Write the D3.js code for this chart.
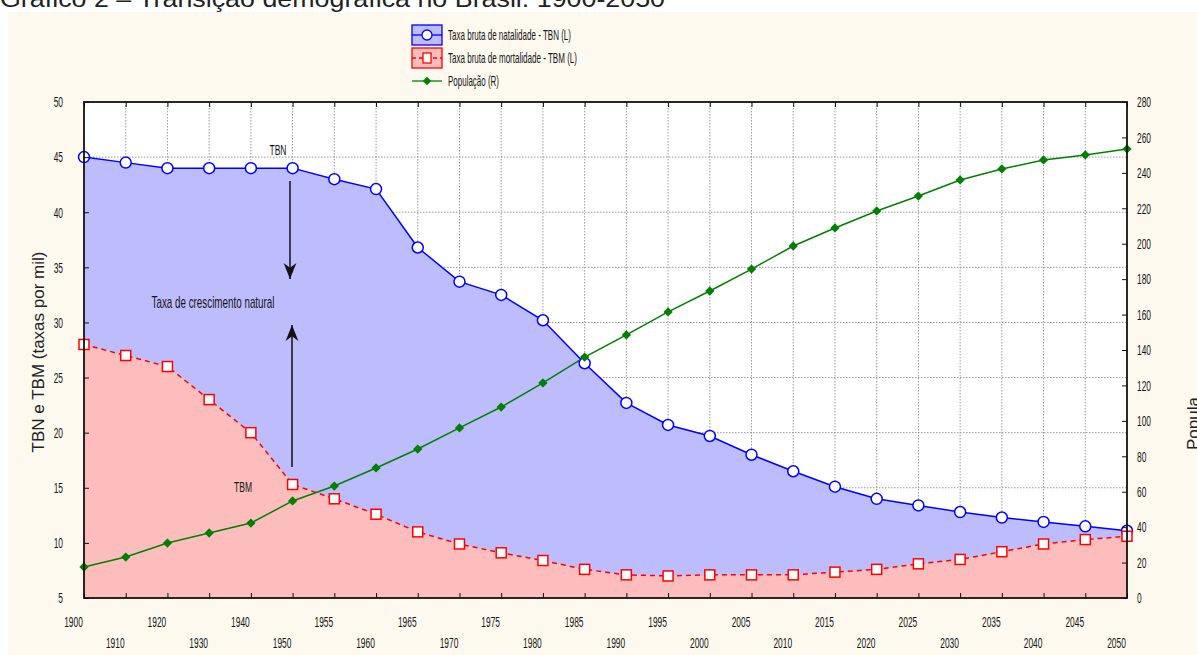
<!DOCTYPE html>
<html><head><meta charset="utf-8">
<script src="https://cdn.jsdelivr.net/npm/d3@7"></script>
<style>
body{margin:0;background:#fff;}
svg{display:block;}
</style></head>
<body>
<svg id="c" width="1197" height="655"></svg>
<script>
const years = ["1900","1910","1920","1930","1940","1950","1955","1960","1965","1970","1975","1980","1985","1990","1995","2000","2005","2010","2015","2020","2025","2030","2035","2040","2045","2050"];
const tbn = [45,44.5,44,44,44,44,43,42.1,36.8,33.7,32.5,30.2,26.3,22.7,20.7,19.7,18,16.5,15.1,14,13.4,12.8,12.3,11.9,11.5,11.1];
const tbm = [28,27,26,23,20,15.3,14,12.6,11,9.9,9.1,8.4,7.6,7.1,7,7.1,7.1,7.1,7.35,7.6,8.1,8.5,9.2,9.9,10.3,10.6];
const pop = [17.5,23.1,31,36.7,42.3,54.8,63.2,73.4,84.1,96,107.8,121.4,136,148.5,161.5,173.3,185.7,198.7,208.9,218.5,226.9,236,242.2,247.3,250.1,253.5];
const leftTicks = [5,10,15,20,25,30,35,40,45,50];
const rightTicks = [0,20,40,60,80,100,120,140,160,180,200,220,240,260,280];
const legendLabels = ["Taxa bruta de natalidade - TBN (L)","Taxa bruta de mortalidade - TBM (L)","População (R)"];
const title = "Gráfico 2 – Transição demográfica no Brasil: 1900-2050";

const FONT = '"Liberation Sans", Arial, sans-serif';
const INK = "#161616";
function squeeze(sel, factor){
  sel.each(function(){
    const w = this.getComputedTextLength();
    d3.select(this).attr("textLength", w*factor).attr("lengthAdjust","spacingAndGlyphs");
  });
}
function fitTo(sel, len){ sel.attr("textLength",len).attr("lengthAdjust","spacingAndGlyphs"); }

const svg = d3.select("#c");
const L=84,R=1127,T=102,B=598;
const x = d3.scalePoint().domain(years).range([L,R]);
const yL = d3.scaleLinear().domain([5,50]).range([B,T]);
const yR = d3.scaleLinear().domain([0,280]).range([B,T]);

// background
svg.append("rect").attr("x",8).attr("y",12).attr("width",1189).attr("height",643).attr("fill","#fdf9ee");
fitTo(svg.append("text").attr("x",0).attr("y",7).attr("font-family",FONT)
  .attr("font-size",24).attr("fill","#222").text(title), 665);

svg.append("rect").attr("x",L).attr("y",T).attr("width",R-L).attr("height",B-T).attr("fill","#fff");

// grid
const grid = svg.append("g").attr("stroke","#9a9a9a").attr("stroke-dasharray","1.5,1.5").attr("stroke-width",1);
years.slice(1,-1).forEach(d=>grid.append("line").attr("x1",x(d)).attr("x2",x(d)).attr("y1",T).attr("y2",B));
leftTicks.slice(1,-1).forEach(v=>grid.append("line").attr("x1",L).attr("x2",R).attr("y1",yL(v)).attr("y2",yL(v)));

// areas
const idx = d3.range(years.length);
svg.append("path").datum(idx).attr("fill","#bdbdfd")
  .attr("d",d3.area().x(i=>x(years[i])).y0(B).y1(i=>yL(tbn[i])));
svg.append("path").datum(idx).attr("fill","#fdbdbd")
  .attr("d",d3.area().x(i=>x(years[i])).y0(B).y1(i=>yL(tbm[i])));

// lines
svg.append("path").datum(idx).attr("fill","none").attr("stroke","#0000ff").attr("stroke-width",1.5)
  .attr("d",d3.line().x(i=>x(years[i])).y(i=>yL(tbn[i])));
svg.append("path").datum(idx).attr("fill","none").attr("stroke","#ff0000").attr("stroke-width",1.5).attr("stroke-dasharray","5,4")
  .attr("d",d3.line().x(i=>x(years[i])).y(i=>yL(tbm[i])));
svg.append("path").datum(idx).attr("fill","none").attr("stroke","#008000").attr("stroke-width",1.5)
  .attr("d",d3.line().x(i=>x(years[i])).y(i=>yR(pop[i])));

// markers
svg.append("g").selectAll("circle").data(idx).join("circle")
  .attr("cx",i=>x(years[i])).attr("cy",i=>yL(tbn[i])).attr("r",5.5)
  .attr("fill","#fff").attr("stroke","#0000ff").attr("stroke-width",1.5);
svg.append("g").selectAll("rect").data(idx).join("rect")
  .attr("x",i=>x(years[i])-5).attr("y",i=>yL(tbm[i])-5).attr("width",10).attr("height",10)
  .attr("fill","#fff").attr("stroke","#ff0000").attr("stroke-width",1.5);
const diamond = d3.symbol().type(d3.symbolDiamond2).size(55);
svg.append("g").selectAll("path").data(idx).join("path")
  .attr("transform",i=>`translate(${x(years[i])},${yR(pop[i])})`).attr("d",diamond).attr("fill","#008000");

// frame
svg.append("rect").attr("x",L).attr("y",T).attr("width",R-L).attr("height",B-T).attr("fill","none").attr("stroke","#111").attr("stroke-width",1.8);

// axes
const ax = svg.append("g").attr("transform",`translate(0,${B})`)
  .call(d3.axisBottom(x).tickSizeInner(-5).tickSizeOuter(0).tickPadding(0));
ax.select(".domain").remove();
ax.selectAll(".tick line").attr("stroke","#111");
ax.selectAll(".tick text").attr("font-family",FONT).attr("font-size",15).attr("fill",INK)
  .attr("x",-11).attr("y",(d,i)=> i%2===0 ? 29 : 50).attr("dy",0).call(squeeze,0.56);
const axT = svg.append("g").attr("transform",`translate(0,${T})`)
  .call(d3.axisTop(x).tickSizeInner(-5).tickSizeOuter(0).tickFormat(""));
axT.select(".domain").remove(); axT.selectAll(".tick line").attr("stroke","#111");

const ayL = svg.append("g").attr("transform",`translate(${L},0)`)
  .call(d3.axisLeft(yL).tickValues(leftTicks).tickSizeInner(-5).tickSizeOuter(0).tickPadding(21));
ayL.select(".domain").remove(); ayL.selectAll(".tick line").attr("stroke","#111");
ayL.selectAll(".tick text").attr("font-family",FONT).attr("font-size",15).attr("fill",INK).call(squeeze,0.56);

const ayR = svg.append("g").attr("transform",`translate(${R},0)`)
  .call(d3.axisRight(yR).tickValues(rightTicks).tickSizeInner(-5).tickSizeOuter(0).tickPadding(10));
ayR.select(".domain").remove(); ayR.selectAll(".tick line").attr("stroke","#111");
ayR.selectAll(".tick text").attr("font-family",FONT).attr("font-size",15).attr("fill",INK).call(squeeze,0.56);

// axis titles
svg.append("text").attr("transform","translate(44,352) rotate(-90)").attr("text-anchor","middle")
  .attr("font-family",FONT).attr("font-size",17).attr("fill","#222")
  .text("TBN e TBM (taxas por mil)");
svg.append("text").attr("transform","translate(1199,450) rotate(-90)").attr("text-anchor","start")
  .attr("font-family",FONT).attr("font-size",17).attr("fill","#222")
  .text("Popula");

// annotations
const ann = svg.append("g").attr("font-family",FONT).attr("fill",INK);
fitTo(ann.append("text").attr("x",278).attr("y",155).attr("text-anchor","middle").attr("font-size",14).text("TBN"),17);
fitTo(ann.append("text").attr("x",213).attr("y",308).attr("text-anchor","middle").attr("font-size",17).text("Taxa de crescimento natural"),123);
fitTo(ann.append("text").attr("x",243).attr("y",492).attr("text-anchor","middle").attr("font-size",14).text("TBM"),18);

svg.append("defs").append("marker").attr("id","ah").attr("viewBox","0 0 10 10").attr("refX",10).attr("refY",5)
  .attr("markerWidth",16).attr("markerHeight",16).attr("markerUnits","userSpaceOnUse").attr("orient","auto")
  .append("path").attr("d","M0,1 L10,5 L0,9 L3,5 Z").attr("fill","#111");
svg.append("line").attr("x1",290).attr("y1",181).attr("x2",290).attr("y2",279).attr("stroke","#111").attr("stroke-width",1.5).attr("marker-end","url(#ah)");
svg.append("line").attr("x1",292).attr("y1",467).attr("x2",292).attr("y2",325).attr("stroke","#111").attr("stroke-width",1.5).attr("marker-end","url(#ah)");

// legend
const lg = svg.append("g").attr("font-family",FONT).attr("font-size",15).attr("fill",INK);
const rows = [35,58,81];
lg.append("rect").attr("x",412).attr("y",25).attr("width",30).attr("height",20).attr("fill","#bdbdfd").attr("stroke","#0000ff").attr("stroke-width",1.3);
lg.append("line").attr("x1",412).attr("x2",442).attr("y1",35).attr("y2",35).attr("stroke","#0000ff").attr("stroke-width",1.3);
lg.append("circle").attr("cx",427).attr("cy",35).attr("r",5).attr("fill","#fff").attr("stroke","#0000ff").attr("stroke-width",1.3);
lg.append("rect").attr("x",412).attr("y",48).attr("width",30).attr("height",20).attr("fill","#fdbdbd").attr("stroke","#ff0000").attr("stroke-width",1.3);
lg.append("line").attr("x1",412).attr("x2",442).attr("y1",58).attr("y2",58).attr("stroke","#ff0000").attr("stroke-width",1.3).attr("stroke-dasharray","4,3");
lg.append("rect").attr("x",423).attr("y",53).attr("width",8).attr("height",10).attr("fill","#fff").attr("stroke","#ff0000").attr("stroke-width",1.3);
lg.append("line").attr("x1",412).attr("x2",442).attr("y1",81).attr("y2",81).attr("stroke","#008000").attr("stroke-width",1.3);
lg.append("path").attr("transform","translate(427,81)").attr("d",d3.symbol().type(d3.symbolDiamond2).size(45)).attr("fill","#008000");
const legLens = [123,129,51];
legendLabels.forEach((t,i)=>fitTo(lg.append("text").attr("x",448).attr("y",rows[i]).attr("dy","0.35em").text(t), legLens[i]));
</script>
</body></html>
